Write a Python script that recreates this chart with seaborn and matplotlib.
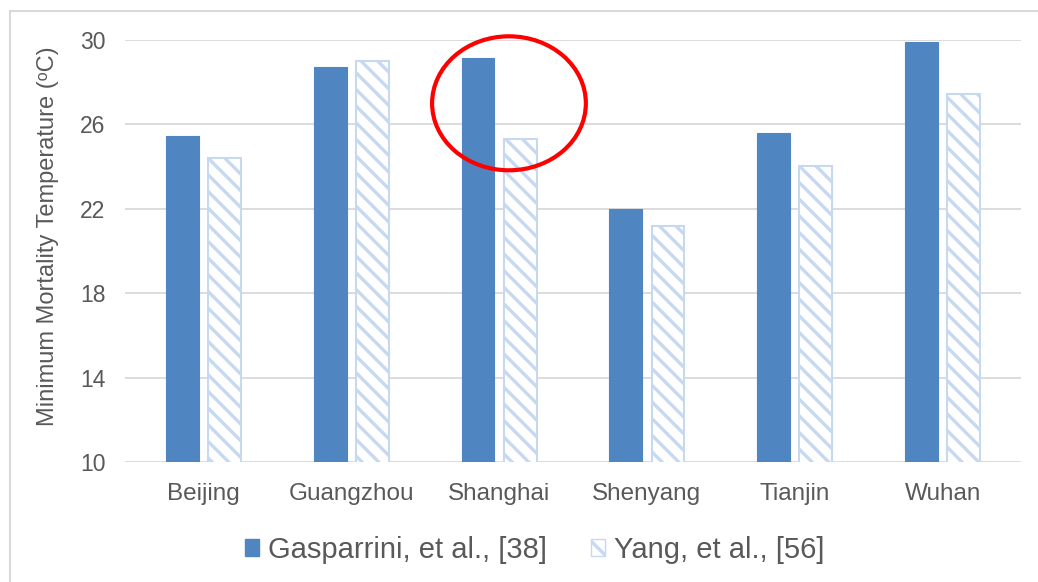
import matplotlib
matplotlib.use("Agg")
import matplotlib.pyplot as plt
from matplotlib.patches import Patch, Ellipse
from matplotlib.lines import Line2D
import seaborn as sns
import pandas as pd

cities = ["Beijing", "Guangzhou", "Shanghai", "Shenyang", "Tianjin", "Wuhan"]
gasparrini = [25.45, 28.7, 29.15, 22.0, 25.6, 29.9]
yang = [24.4, 29.0, 25.3, 21.2, 24.05, 27.45]
series_names = ["Gasparrini, et al., [38]", "Yang, et al., [56]"]
yticks = [10, 14, 18, 22, 26, 30]

BLUE = "#4F85C0"
LIGHT = "#C6D9F1"
TXT = "#595959"
GRID = "#D9D9D9"

sns.set_style("white")
plt.rcParams["font.family"] = ["Liberation Sans", "DejaVu Sans"]
plt.rcParams["hatch.linewidth"] = 2.4

df = pd.DataFrame({
    "city": cities * 2,
    "value": gasparrini + yang,
    "study": [series_names[0]] * len(cities) + [series_names[1]] * len(cities),
})

fig = plt.figure(figsize=(10.38, 5.82), dpi=100)
ax = fig.add_axes([125 / 1038, 1 - 462 / 582, (1021 - 125) / 1038, (462 - 40) / 582])

sns.barplot(data=df, x="city", y="value", hue="study", order=cities,
            hue_order=series_names, palette=[BLUE, LIGHT], width=0.57, gap=0.22,
            legend=False, ax=ax, saturation=1, errorbar=None)

for p in ax.containers[0]:
    p.set_facecolor(BLUE)
    p.set_edgecolor(BLUE)
    p.set_linewidth(0.8)
for p in ax.containers[1]:
    p.set_facecolor("white")
    p.set_edgecolor(LIGHT)
    p.set_hatch("\\\\")
    p.set_linewidth(1.5)

ax.set_ylim(10, 30)
ax.set_xlim(-0.53, 5.53)
ax.set_yticks(yticks)
ax.set_yticklabels([str(t) for t in yticks])
ax.yaxis.grid(True, color=GRID, linewidth=1.3)
ax.set_axisbelow(True)
for s in ax.spines.values():
    s.set_visible(False)
ax.tick_params(axis="y", length=0, pad=14, labelsize=16.5, labelcolor=TXT)
ax.tick_params(axis="x", length=0, pad=15, labelsize=17.5, labelcolor=TXT)
ax.set_xlabel("")
ax.set_ylabel("Minimum Mortality Temperature (\u1d52C)", fontsize=17, color=TXT)
ax.yaxis.set_label_coords(-0.074, 0.535)

ell = Ellipse((2.067, 27.0), width=1.04, height=6.35, fill=False,
              edgecolor="#FF0000", linewidth=3.0, clip_on=False, zorder=5)
ax.add_patch(ell)

handles = [
    Patch(facecolor=BLUE, edgecolor=BLUE),
    Patch(facecolor="white", edgecolor=LIGHT, hatch="\\\\"),
]
fig.legend(handles, series_names, loc="center", bbox_to_anchor=(0.515, 0.055),
           ncol=2, frameon=False, fontsize=21, labelcolor=TXT,
           handlelength=0.5, handleheight=0.5, handletextpad=0.3,
           columnspacing=1.5)

# chart frame (top and left edges)
fig.add_artist(Line2D([10 / 1038, 1], [1 - 11 / 582, 1 - 11 / 582],
                      transform=fig.transFigure, color=GRID, linewidth=1.5))
fig.add_artist(Line2D([10 / 1038, 10 / 1038], [0, 1 - 11 / 582],
                      transform=fig.transFigure, color=GRID, linewidth=1.5))

fig.savefig("out.png", dpi=100, facecolor="white")
